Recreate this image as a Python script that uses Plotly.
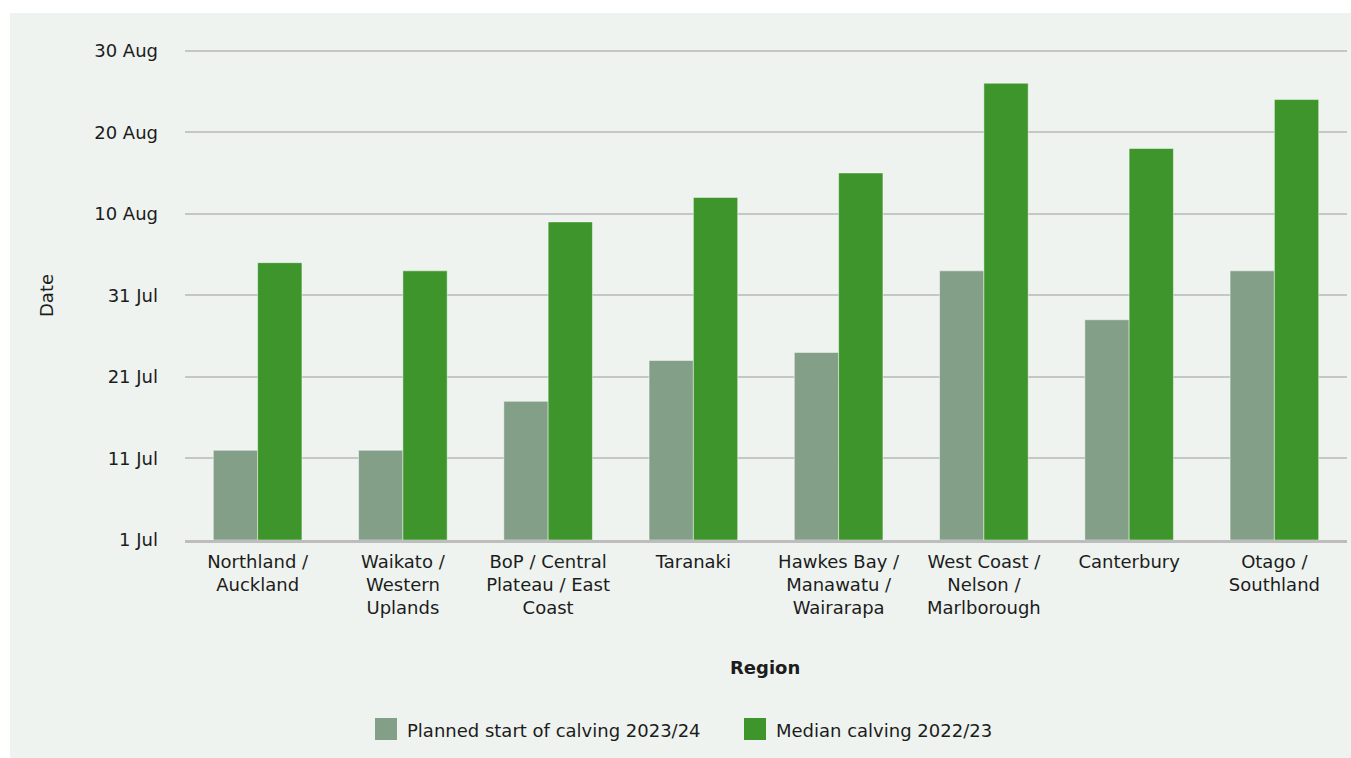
import plotly.graph_objects as go

# Regions (x categories)
regions = [
    "Northland /<br>Auckland",
    "Waikato /<br>Western<br>Uplands",
    "BoP / Central<br>Plateau / East<br>Coast",
    "Taranaki",
    "Hawkes Bay /<br>Manawatu /<br>Wairarapa",
    "West Coast /<br>Nelson /<br>Marlborough",
    "Canterbury",
    "Otago /<br>Southland",
]

# Days after 1 July
planned_2023_24 = [11, 11, 17, 22, 23, 33, 27, 33]
median_2022_23 = [34, 33, 39, 42, 45, 56, 48, 54]

# Y-axis ticks (days after 1 July) and their labels
tick_days = [0, 10, 20, 30, 40, 50, 60]
tick_labels = ["1 Jul", "11 Jul", "21 Jul", "31 Jul", "10 Aug", "20 Aug", "30 Aug"]

series_names = ["Planned start of calving 2023/24", "Median calving 2022/23"]
series_colors = ["#839f88", "#3e952b"]

W, H = 1351, 758
L, R, T, B = 185, 4, 49, 218
PW, PH = W - L - R, H - T - B

FONT = "DejaVu Sans"
FS = 18
TXT = "#1c1c1c"
PANEL = "#eef3ef"


def px(x):
    return (x - L) / PW


def py(y):
    return (H - B - y) / PH


fig = go.Figure()
for name, vals, col in zip(series_names, [planned_2023_24, median_2022_23], series_colors):
    fig.add_trace(go.Bar(
        x=regions, y=vals, name=name, base=0,
        marker=dict(color=col, line=dict(color="rgba(255,255,255,0.45)", width=1)),
        showlegend=False,
    ))

shapes = [
    # light panel behind the chart
    dict(type="rect", xref="paper", yref="paper", layer="below",
         x0=px(10), x1=px(W + 5), y0=py(13), y1=py(H + 5),
         fillcolor=PANEL, line=dict(width=0)),
]
annotations = [
    dict(text="<b>Region</b>", xref="paper", yref="paper", x=px(765), y=py(667),
         showarrow=False, font=dict(family=FONT, size=FS, color=TXT),
         xanchor="center", yanchor="middle"),
    dict(text="Date", xref="paper", yref="paper", x=px(46), y=py(296), textangle=-90,
         showarrow=False, font=dict(family=FONT, size=FS, color=TXT),
         xanchor="center", yanchor="middle"),
]

# legend: swatch + label for each series
legend_items = [(375, 405), (744, 774)]
for (sx, tx), name, col in zip(legend_items, series_names, series_colors):
    shapes.append(dict(type="rect", xref="paper", yref="paper",
                       x0=px(sx), x1=px(sx + 22), y0=py(740), y1=py(718),
                       fillcolor=col, line=dict(width=0)))
    annotations.append(dict(text=name, xref="paper", yref="paper", x=px(tx), y=py(730),
                            showarrow=False, xanchor="left", yanchor="middle",
                            font=dict(family=FONT, size=FS, color=TXT)))

fig.update_layout(
    width=W, height=H,
    margin=dict(l=L, r=R, t=T, b=B, pad=0),
    paper_bgcolor="white",
    plot_bgcolor=PANEL,
    barmode="group",
    bargap=0.39,
    bargroupgap=0,
    font=dict(family=FONT, size=FS, color=TXT),
    shapes=shapes,
    annotations=annotations,
    showlegend=False,
)
fig.update_xaxes(
    showline=True, linecolor="#bdbdbd", linewidth=3,
    showgrid=False, ticks="", tickangle=0,
    ticklabelstandoff=3,
    tickfont=dict(family=FONT, size=FS, color=TXT),
)
fig.update_yaxes(
    range=[0, 60.2], tickvals=tick_days, ticktext=tick_labels,
    showgrid=True, gridcolor="#c6c6c6", gridwidth=1.5,
    zeroline=False, showline=False, ticks="",
    ticklabelstandoff=26,
    tickfont=dict(family=FONT, size=FS, color=TXT),
)

fig.write_html("out.html")
